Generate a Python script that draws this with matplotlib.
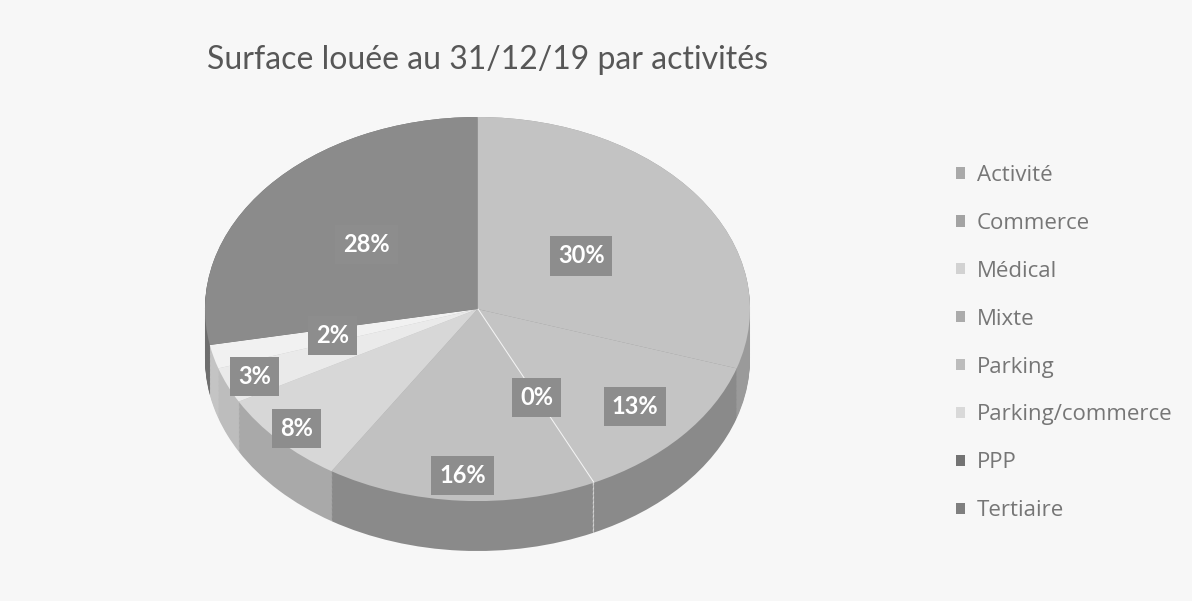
import numpy as np
import matplotlib
matplotlib.use("Agg")
import matplotlib.pyplot as plt
from matplotlib.patches import Patch

# data
categories = ["Activité", "Commerce", "Médical", "Mixte", "Parking",
              "Parking/commerce", "PPP", "Tertiaire"]
shares = [30, 13, 0, 16, 8, 3, 2, 28]

# grey tones as they come out of the scan
slice_colors = ["#c3c3c3", "#c4c4c4", "#f4f4f4", "#c1c1c1", "#d7d7d7",
                "#eaeaea", "#f1f1f1", "#8b8b8b"]
side_colors = ["#9a9a9a", "#8a8a8a", "#e0e0e0", "#8a8a8a", "#a9a9a9",
               "#bdbdbd", "#c4c4c4", "#6e6e6e"]
legend_colors = ["#a9a9a9", "#a3a3a3", "#d2d2d2", "#ababab", "#bcbcbc",
                 "#d9d9d9", "#737373", "#7f7f7f"]

# label placement: radial fraction of the rim, per slice
label_dist = [0.47, 0.77, 0.51, 0.87, 0.91, 0.89, 0.55, 0.53]

W, H = 1192, 601
fig = plt.figure(figsize=(W / 100, H / 100), dpi=100, facecolor="#f7f7f7")

depth = 0.26  # thickness of the disc, in pie radii
ax = fig.add_axes([205 / W, 50 / H, 545 / W, 434 / H])
ax.set_facecolor("none")

# side of the disc: stacked copies shifted downwards
for d in np.linspace(depth, 0.0, 40):
    wedges, _ = ax.pie(shares, colors=side_colors, startangle=90,
                       counterclock=False, center=(0, -d), radius=1,
                       wedgeprops=dict(linewidth=0))
    wedges[2].set_edgecolor("#e6e6e6")
    wedges[2].set_linewidth(1.2)

# top face
wedges, _ = ax.pie(shares, colors=slice_colors, startangle=90,
                   counterclock=False, center=(0, 0), radius=1,
                   wedgeprops=dict(linewidth=0))
wedges[2].set_edgecolor("#f4f4f4")
wedges[2].set_linewidth(1.5)

ax.set_aspect("auto")
ax.set_xlim(-1, 1)
ax.set_ylim(-1 - depth, 1)
ax.axis("off")

# percentage labels in dark boxes
total = float(sum(shares))
start = 90.0
for val, dist in zip(shares, label_dist):
    sweep = 360.0 * val / total
    mid = np.deg2rad(start - sweep / 2)
    start -= sweep
    ax.text(dist * np.cos(mid), dist * np.sin(mid), f"{val}%",
            ha="center", va="center", color="white", fontsize=17,
            fontweight="bold", family="Lato",
            bbox=dict(boxstyle="square,pad=0.34", facecolor="#8d8d8d",
                      edgecolor="none"))

fig.text(207 / W, 1 - 60 / H, "Surface louée au 31/12/19 par activités",
         ha="left", va="center", fontsize=23, color="#575757", family="Lato")

handles = [Patch(facecolor=c, edgecolor="none") for c in legend_colors]
fig.legend(handles, categories, loc="upper left",
           bbox_to_anchor=(956 / W, 1 - 165 / H), frameon=False,
           prop=dict(family="Open Sans", size=16), labelcolor="#767676",
           handlelength=0.4, handleheight=0.4, handletextpad=0.55,
           labelspacing=1.21, borderpad=0, borderaxespad=0)

fig.savefig("out.png", dpi=100, facecolor=fig.get_facecolor())
